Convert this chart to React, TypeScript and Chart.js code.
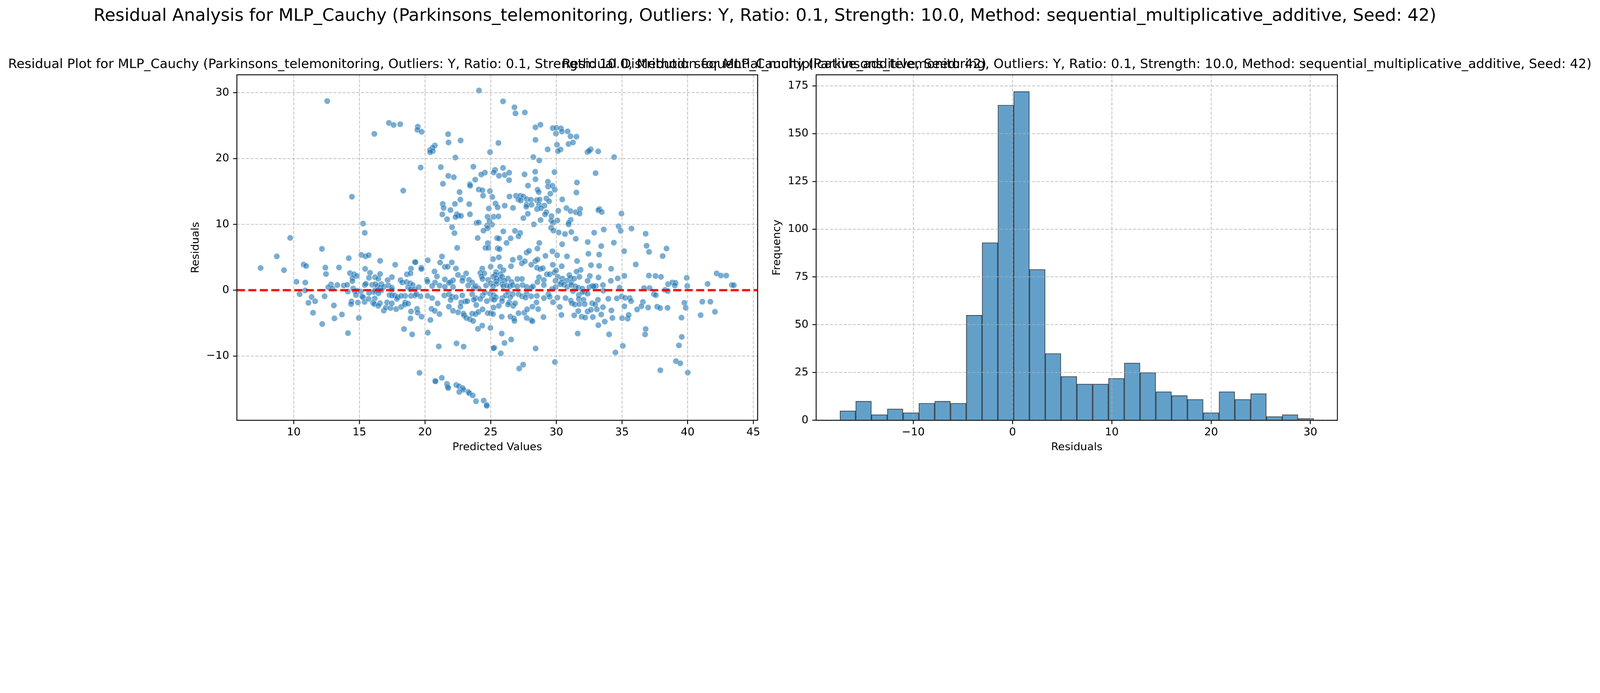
import React, { useEffect, useRef } from "react";
import { Chart, registerables } from "chart.js";

Chart.register(...registerables);

// ---------------- text ----------------
const suptitle =
  "Residual Analysis for MLP_Cauchy (Parkinsons_telemonitoring, Outliers: Y, Ratio: 0.1, Strength: 10.0, Method: sequential_multiplicative_additive, Seed: 42)";
const scatterTitle =
  "Residual Plot for MLP_Cauchy (Parkinsons_telemonitoring, Outliers: Y, Ratio: 0.1, Strength: 10.0, Method: sequential_multiplicative_additive, Seed: 42)";
const histTitle =
  "Residual Distribution for MLP_Cauchy (Parkinsons_telemonitoring, Outliers: Y, Ratio: 0.1, Strength: 10.0, Method: sequential_multiplicative_additive, Seed: 42)";
const scatterXLabel = "Predicted Values";
const scatterYLabel = "Residuals";
const histXLabel = "Residuals";
const histYLabel = "Frequency";

// ---------------- scatter data (predicted, residual) ----------------
const predicted = [
  24.11, 12.55, 17.25, 17.61, 18.11, 19.45, 19.42, 19.74, 16.14, 21.76, 22.71, 21.79, 25.59, 20.75, 20.58, 20.39, 20.59, 20.39, 24.95, 22.31,
  19.67, 21.2, 23.68, 25.33, 25.23, 24.56, 24.28, 25.63, 21.77, 22.19, 23.82, 21.36, 23.41, 23.44, 24.09, 24.37, 24.94, 18.34, 14.43, 22.63,
  24.42, 25.12, 22.69, 21.35, 22.28, 23.37, 25.37, 21.42, 21.94, 24.86, 25.53, 21.32, 22.43, 22.53, 22.32, 22.74, 23.42, 24.76, 25.23, 25.59,
  21.68, 24.91, 23.92, 24.09, 25.1, 24.72, 24.76, 24.45, 22.06, 22.24, 15.28, 15.41, 9.73, 24.01, 25.49, 25.63, 24.79,
  25.94, 26.81, 26.89, 27.6, 28.41, 28.79, 29.73, 30.0, 30.35, 30.42, 29.97, 30.86, 31.08, 31.53, 28.41, 30.93, 31.27, 30.05, 29.34, 30.32,
  30.12, 32.37, 32.62, 32.49, 33.19, 34.4, 28.24, 28.7, 25.94, 27.58, 26.07, 26.41, 28.39, 29.86, 32.99, 26.4, 28.41, 29.36, 27.84, 31.57,
  29.37, 29.7, 29.88, 28.57, 28.66, 29.54, 31.53, 26.43, 26.93, 27.26, 27.49, 27.11, 27.29, 27.75, 28.06, 28.51, 28.73, 29.24, 29.45, 30.45,
  26.07, 26.7, 27.74, 27.71, 28.11, 28.68, 29.09, 28.53, 28.83, 30.15, 30.77, 31.08, 31.48, 31.81, 31.77, 33.29, 33.2, 33.46, 34.96, 29.24,
  29.14, 27.83, 29.63, 27.49, 28.8, 29.61, 29.76, 30.08, 31.09, 30.94, 30.94, 28.29, 34.74, 34.9, 35.72, 36.8, 33.61, 32.88, 29.6, 29.78,
  30.18, 30.66, 31.14, 31.48, 32.39, 34.38, 30.44, 28.7, 25.96, 26.85, 27.25, 27.12, 26.52, 26.21,
  12.15, 8.71, 7.48, 9.26, 10.76, 10.95, 12.41, 13.45, 12.46, 14.19, 15.15, 15.47, 15.71, 16.58, 17.73, 19.22, 18.93, 18.62, 18.89, 15.44,
  15.81, 15.73, 16.2, 16.44, 16.58, 17.15, 17.48, 14.28, 14.6, 14.8, 14.47, 14.47, 10.21, 10.88, 12.84, 12.63, 12.95, 13.32, 13.81, 14.07,
  14.53, 14.82, 14.65, 15.11, 15.41, 15.49, 15.97, 16.22, 16.37, 16.68, 16.59, 16.86, 17.21, 17.47, 17.47, 18.14, 18.27, 18.58, 18.87, 19.06,
  18.71, 18.89, 19.2, 16.19, 16.44, 16.68, 16.1, 15.74, 16.45, 14.12, 10.87, 10.45, 11.36, 11.63, 11.12, 12.35, 14.74, 15.22, 15.27, 14.4,
  14.37, 14.89, 15.4, 15.7, 16.17, 16.04, 16.15, 16.57, 16.44, 16.86, 17.02, 17.11, 17.38, 17.47, 17.29, 17.47, 17.69, 17.86, 17.91, 17.8,
  18.18, 18.49, 18.46, 18.71, 18.49, 18.18, 18.93, 18.93, 18.89, 18.4, 19.02, 14.96, 13.67, 13.1, 13.06, 11.47, 12.17, 14.13, 19.24,
  22.45, 24.6, 24.82, 25.53, 25.68, 27.74, 27.92, 28.56, 29.7, 30.06, 30.81, 32.44, 29.17,
  19.27, 20.21, 21.29, 21.15, 22.04, 21.51, 21.73, 19.72, 19.72, 22.35, 25.18, 25.62, 26.68, 27.21, 27.37, 27.6, 28.09, 28.4, 28.57, 26.55,
  31.58, 29.73, 30.41, 28.53, 28.78, 28.97, 32.64, 25.0, 24.36, 25.72, 25.97, 31.85, 31.54,
  20.72, 20.91, 22.51, 23.13, 24.21, 24.51, 24.31, 24.38, 25.41, 25.36, 25.75, 25.19, 25.44, 25.4, 25.71, 25.88, 26.32, 26.06, 26.59, 27.03,
  27.38, 24.81, 22.88, 22.84, 23.35, 23.59, 22.13, 21.95, 21.51, 20.14, 20.18, 20.76, 28.68, 29.05, 28.56, 29.28, 29.5, 29.85, 29.98, 30.11,
  29.94, 30.46, 30.99, 31.07, 30.78, 31.14, 31.36, 31.76, 32.55, 32.38, 30.39,
  19.52, 20.54, 21.11, 21.51, 21.82, 22.13, 23.28, 23.72, 24.08, 23.85, 24.65, 25.0, 25.44, 25.18, 25.88, 25.97, 26.23, 26.46, 26.68, 27.03,
  27.43, 27.74, 28.09, 28.22, 29.05, 29.68, 29.94, 30.3, 30.57, 30.83, 31.14, 31.45, 31.67, 31.98, 32.51, 32.73, 31.27, 32.16,
  19.35, 19.66, 20.19, 20.54, 21.47, 21.82, 22.04, 22.35, 22.84, 23.59, 23.85, 24.38, 24.56, 24.96, 25.22, 25.4, 25.08, 25.88, 26.15, 26.32,
  26.68, 26.5, 27.12, 27.39, 27.74, 27.65, 28.09, 28.52, 29.05, 29.4, 29.49, 30.08, 30.7, 31.71, 31.98, 32.38,
  20.96, 21.95, 22.75, 23.06, 23.22, 23.72, 23.9, 24.21, 24.71, 25.27, 25.86, 26.41, 26.32, 26.72, 26.86, 25.62, 28.49, 29.75, 30.26, 31.1,
  31.19, 31.41, 31.71, 31.76, 32.07, 32.16, 32.73, 22.7, 21.82,
  19.39, 19.44, 19.74, 20.41, 20.49, 20.74, 21.1, 22.13, 22.52, 22.93, 22.97, 23.14, 23.41, 23.66, 23.59, 23.85, 24.07, 24.38, 24.78, 25.0,
  25.22, 25.18, 25.84, 26.5, 26.77, 26.81, 27.12, 27.56, 27.78, 28.18, 28.62, 27.74, 28.09, 28.18, 29.02, 30.39, 31.36, 31.67, 31.93, 32.2,
  32.38, 32.64, 24.03, 24.36, 24.98, 25.84, 20.21, 31.63,
  33.42, 36.87, 38.39, 33.26, 35.16, 37.06, 38.1, 33.26, 34.17, 36.05, 33.21, 34.15, 34.68, 35.18, 37.05, 37.55, 37.97, 39.93, 42.21, 42.54,
  42.94, 41.52, 43.37, 43.52, 39.97, 33.55, 33.01, 32.84, 34.82, 33.57, 36.68, 37.1, 38.51, 38.83, 39.08, 39.02, 38.28, 38.49, 37.43, 37.58,
  33.17, 33.96, 34.61, 34.97, 35.24, 35.59, 35.69, 36.59, 36.48, 36.15, 36.99, 37.68, 37.91, 38.47, 39.75, 39.85, 41.12, 41.73, 42.08, 40.99,
  39.53, 35.18, 32.96, 33.55, 33.09, 34.19, 33.42, 32.78, 34.27, 33.69, 33.2, 35.01, 35.43, 35.51, 36.8, 36.76, 34.02, 39.55,
  21.05, 22.4, 22.94, 26.05, 26.56, 25.28, 25.21, 25.77, 28.42, 35.06, 34.5, 39.34, 29.89, 27.47, 27.17, 39.11, 39.44, 37.92, 40.01, 19.58,
  21.28, 20.77, 20.8, 21.67, 21.72, 21.77, 22.38, 22.59, 22.86, 22.92, 22.61, 23.3, 23.37, 23.63, 23.88, 24.47, 24.7, 24.7,
];

const residuals = [
  30.35, 28.74, 25.42, 25.11, 25.22, 24.85, 24.37, 24.08, 23.75, 23.71, 22.76, 22.45, 22.37, 21.99, 21.66, 21.31, 21.14, 20.97, 20.98, 20.16,
  18.64, 18.7, 18.77, 18.29, 17.89, 17.86, 17.58, 17.39, 17.37, 17.17, 16.8, 16.17, 16.08, 15.87, 15.3, 15.18, 15.06, 15.13, 14.2, 14.91,
  14.37, 14.18, 13.77, 13.11, 13.11, 13.07, 13.16, 12.5, 12.18, 12.42, 12.59, 11.52, 11.55, 11.33, 11.11, 11.3, 11.54, 11.16, 11.16, 11.21,
  10.78, 10.52, 10.22, 10.29, 9.97, 9.83, 9.4, 9.05, 9.57, 8.67, 10.12, 8.72, 7.94, 7.93, 7.91, 7.85, 7.15,
  28.7, 27.79, 26.87, 27.01, 24.75, 25.15, 24.63, 24.68, 24.59, 24.11, 23.8, 24.13, 23.39, 23.33, 22.85, 22.21, 22.45, 22.11, 21.4, 21.38,
  21.14, 21.0, 21.4, 21.17, 21.09, 20.22, 20.22, 19.72, 18.58, 17.6, 17.51, 17.86, 18.0, 17.94, 17.79, 16.72, 16.86, 16.48, 15.89, 16.36,
  15.75, 15.87, 15.27, 15.27, 14.92, 14.66, 14.84, 14.23, 14.35, 14.35, 14.23, 13.77, 13.63, 13.83, 13.75, 13.68, 13.77, 13.94, 13.51, 13.8,
  12.85, 12.5, 12.99, 12.68, 12.99, 13.02, 12.85, 12.33, 12.47, 12.07, 12.47, 12.02, 11.85, 12.33, 11.64, 12.33, 12.16, 11.88, 11.64, 11.85,
  11.52, 11.61, 11.26, 10.95, 10.66, 10.6, 10.26, 10.6, 10.69, 10.26, 10.0, 10.0, 9.71, 9.02, 9.36, 8.58, 9.22, 8.74, 9.47, 9.05,
  8.77, 8.53, 8.84, 7.81, 7.32, 7.22, 6.98, 7.18, 8.93, 9.02, 8.7, 8.19, 7.88, 7.18,
  6.28, 5.14, 3.37, 3.04, 3.89, 3.68, 3.43, 3.45, 2.45, 4.86, 5.36, 5.14, 5.32, 4.46, 3.87, 4.26, 3.28, 2.41, 2.55, 3.24,
  2.64, 1.89, 1.96, 1.74, 2.46, 1.53, 1.99, 2.59, 2.42, 2.16, 1.83, 1.37, 1.28, 1.16, 0.87, 0.45, 0.25, 0.78, 0.71, 0.82,
  0.25, -0.08, -0.14, -0.21, 0.78, 0.97, 0.82, 0.91, 0.64, 0.91, 0.38, 0.51, 0.71, 0.38, 0.05, 1.53, 1.17, 1.24, 1.04, 0.78,
  0.45, 0.12, 0.12, -0.01, 0.03, -0.01, -0.28, -0.41, -0.47, -0.21, -0.04, -0.61, -1.04, -1.68, -1.93, -0.93, -0.74, -0.93, -1.07, -1.72,
  -2.12, -1.88, -1.78, -1.33, -1.26, -1.92, -2.12, -1.99, -2.38, -3.11, -2.64, -1.86, -2.71, -1.99, -0.74, -0.8, -0.8, -1.33, -1.07, -2.88,
  -2.54, -1.86, -2.18, -2.05, -0.87, -0.87, -0.87, -3.24, -4.29, -5.91, -6.72, -4.22, -3.7, -4.29, -2.32, -3.43, -5.14, -6.53, -0.8,
  6.43, 6.43, 6.43, 6.37, 6.24, 5.71, 5.97, 6.33, 5.91, 5.32, 5.14, 5.54, 5.21,
  4.26, 4.55, 5.12, 4.2, 4.22, 3.54, 3.57, 3.41, 3.21, 3.29, 4.72, 4.99, 4.62, 4.92, 4.07, 4.39, 3.87, 4.42, 4.66, 3.64,
  4.43, 3.87, 3.64, 3.41, 3.21, 3.34, 3.8, 3.57, 3.28, 3.57, 3.04, 3.08, 2.82,
  2.84, 2.09, 2.33, 2.55, 2.62, 2.55, 2.09, 1.7, 2.75, 2.36, 2.42, 2.03, 1.83, 1.37, 1.63, 2.03, 1.76, 1.43, 1.24, 1.7,
  1.7, 1.57, 1.89, 1.43, 1.57, 1.17, 1.5, 1.24, 1.63, 1.57, 1.3, 1.17, 1.96, 1.54, 1.24, 2.42, 2.42, 2.68, 3.01, 2.03,
  1.43, 1.76, 2.29, 1.89, 1.43, 1.17, 1.76, 2.03, 2.16, 1.43, 1.17,
  0.45, 0.64, 0.71, 0.51, 1.11, 0.51, 0.71, 0.32, 0.25, 0.64, 0.71, 1.04, 0.97, 0.58, 0.91, 0.58, 0.71, 0.58, 0.78, 0.58,
  0.78, 0.51, 0.38, 0.58, 0.78, 0.18, 0.45, 0.91, 0.84, 0.51, 0.78, 0.58, 0.38, 0.25, 0.45, 0.64, -0.14, -0.21,
  -0.61, -0.93, -0.87, -1.2, -0.8, -0.64, -1.0, -1.07, -0.8, -0.61, -1.2, -0.8, -0.34, -0.54, -0.74, -1.07, -1.33, -1.2, -0.8, -0.28,
  -0.61, -1.07, -0.61, -0.93, -0.54, -1.13, -0.93, -0.87, -1.2, -0.61, -1.0, -1.13, -1.2, -0.74, -0.28, -0.54,
  -2.01, -1.49, -1.86, -1.72, -1.66, -1.46, -2.25, -1.33, -1.66, -1.46, -1.66, -1.86, -2.18, -2.38, -1.99, -2.38, -1.86, -1.83, -2.55, -1.59,
  -1.99, -2.18, -1.33, -2.12, -1.46, -2.12, -1.99, -2.51, -2.51,
  -2.84, -3.43, -4.03, -4.53, -2.84, -3.14, -3.63, -3.14, -3.37, -3.57, -3.83, -4.22, -4.42, -4.68, -3.57, -3.63, -3.3, -2.91, -3.5, -3.5,
  -2.64, -3.63, -4.03, -4.03, -4.29, -4.68, -3.5, -3.43, -2.91, -2.51, -2.88, -4.22, -4.55, -4.72, -4.09, -3.76, -3.83, -3.17, -4.03, -4.16,
  -3.24, -2.97, -5.87, -5.38, -5.74, -6.59, -6.46, -6.59,
  6.7, 6.75, 6.33, 5.41, 5.93, 5.82, 5.18, 3.7, 3.25, 3.91, 1.93, 1.43, 1.79, 2.18, 2.22, 2.16, 2.03, 1.87, 2.55, 2.22,
  2.22, 0.95, 0.8, 0.75, 0.64, 0.78, 0.64, 0.58, 0.38, -0.08, 0.32, 0.32, 0.91, 1.17, 1.11, 0.71, 0.05, -0.14, -0.61, -0.76,
  -1.46, -1.3, -1.26, -0.96, -1.17, -1.2, -1.66, -1.79, -2.45, -2.93, -2.64, -2.51, -2.72, -2.68, -1.92, -2.68, -1.75, -1.75, -3.28, -3.79,
  -4.18, -2.45, -2.18, -2.58, -2.91, -3.08, -3.7, -4.09, -4.22, -4.78, -5.32, -4.26, -4.33, -3.76, -5.91, -6.72, -6.72, -7.1,
  -8.55, -8.09, -8.58, -8.03, -7.5, -8.75, -8.82, -9.61, -8.86, -8.46, -9.47, -8.39, -10.92, -11.32, -11.91, -10.79, -11.12, -12.17, -12.53, -12.57,
  -13.32, -13.78, -13.86, -14.25, -14.67, -14.87, -14.41, -14.61, -14.87, -15.13, -15.46, -15.46, -15.66, -15.99, -16.88, -16.78, -17.43, -17.57,
];

const zeroLineY = [0, 0];

// ---------------- histogram data ----------------
const histCounts = [5, 10, 3, 6, 4, 9, 10, 9, 55, 93, 165, 172, 79, 35, 23, 19, 19, 22, 30, 25, 15, 13, 11, 4, 15, 11, 14, 2, 3, 1];
const histBinStart = -17.39;
const histBinWidth = 1.591;

// ---------------- axes ----------------
const scatterXRange = [5.67, 45.33];
const scatterYRange = [-19.78, 32.73];
const scatterXTicks = [10, 15, 20, 25, 30, 35, 40, 45];
const scatterYTicks = [-10, 0, 10, 20, 30];
const histXRange = [-19.78, 32.72];
const histYRange = [0, 180.76];
const histXTicks = [-10, 0, 10, 20, 30];
const histYTicks = [0, 25, 50, 75, 100, 125, 150, 175];

// ---------------- style ----------------
const FIG_W = 6154;
const FIG_H = 1775;
const PT = 300 / 72;
const FONT = "'DejaVu Sans', 'Liberation Sans', sans-serif";
const TICK_PX = 10 * PT;
const TITLE_PX = 12 * PT;
const SUPTITLE_PX = 16 * PT;
const GRID_COLOR = "rgba(176,176,176,0.7)";
const LINE_W = 0.8 * PT;

const fmt = (v: number) => (v < 0 ? "\u2212" + Math.abs(v) : String(v));

function makeAxis(
  position: "left" | "bottom",
  range: number[],
  ticks: number[],
  title: string,
  size: number,
  titlePad: number,
  labelPad: number,
  hideZeroGrid = false
) {
  return {
    type: "linear",
    position,
    min: range[0],
    max: range[1],
    offset: false,
    afterBuildTicks: (s: any) => {
      s.ticks = ticks.map((v) => ({ value: v }));
    },
    afterFit: (s: any) => {
      if (position === "left") s.width = size;
      else s.height = size;
    },
    grid: {
      display: true,
      offset: false,
      drawOnChartArea: true,
      drawTicks: true,
      color: (c: any) => (hideZeroGrid && c.tick && c.tick.value === 0 ? "rgba(0,0,0,0)" : GRID_COLOR),
      lineWidth: LINE_W,
      tickLength: 3.5 * PT,
      tickWidth: LINE_W,
      tickColor: "#000",
      z: 1,
    },
    // spines are drawn by the frame plugin; border.dash styles the dashed grid lines
    border: { display: false, color: "#000", width: LINE_W, dash: [3.7 * 0.8 * PT, 1.6 * 0.8 * PT] },
    ticks: {
      color: "#000",
      font: { family: FONT, size: TICK_PX },
      padding: labelPad,
      autoSkip: false,
      maxRotation: 0,
      minRotation: 0,
      callback: (v: any) => fmt(Number(v)),
    },
    title: {
      display: true,
      text: title,
      color: "#000",
      font: { family: FONT, size: TICK_PX },
      padding: { top: titlePad, bottom: titlePad },
    },
  };
}

function decorPlugin(id: string, title: string, withSuptitle: boolean) {
  return {
    id,
    afterDraw(chart: any) {
      const { ctx, chartArea: a } = chart;
      ctx.save();
      ctx.strokeStyle = "#000";
      ctx.lineWidth = LINE_W;
      ctx.setLineDash([]);
      ctx.strokeRect(a.left, a.top, a.right - a.left, a.bottom - a.top);
      ctx.fillStyle = "#000";
      ctx.textAlign = "center";
      ctx.textBaseline = "alphabetic";
      ctx.font = `${TITLE_PX}px ${FONT}`;
      ctx.fillText(title, (a.left + a.right) / 2, a.top - 26);
      if (withSuptitle) {
        ctx.font = `${SUPTITLE_PX}px ${FONT}`;
        ctx.fillText(suptitle, 2942, 80);
      }
      ctx.restore();
    },
  };
}

// CSS size of the figure so that its 6154x1775 backing store maps onto the window's device pixels
function cssScale() {
  if (typeof window === "undefined") return 1;
  const w = window.innerWidth || FIG_W;
  return w / FIG_W;
}

function ScatterPanel({ scale }: { scale: number }) {
  const ref = useRef<HTMLCanvasElement | null>(null);
  useEffect(() => {
    if (!ref.current) return;
    const points = predicted.map((x, i) => ({ x, y: residuals[i] }));
    const zeroLine = scatterXRange.map((x, i) => ({ x, y: zeroLineY[i] }));
    const chart = new Chart(ref.current, {
      type: "scatter",
      data: {
        datasets: [
          {
            type: "line",
            data: zeroLine,
            borderColor: "#ff0000",
            borderWidth: 2 * PT,
            borderDash: [7.4 * PT, 3.2 * PT],
            pointRadius: 0,
            fill: false,
            showLine: true,
          } as any,
          {
            type: "scatter",
            data: points,
            backgroundColor: "rgba(31,119,180,0.6)",
            borderColor: "rgba(255,255,255,0.6)",
            borderWidth: 1.5,
            pointRadius: 11.6,
            pointHoverRadius: 11.6,
          } as any,
        ],
      },
      options: {
        responsive: false,
        animation: false,
        devicePixelRatio: 1,
        events: [],
        layout: { padding: { left: 700, right: FIG_W - 2914, top: 288, bottom: 0 } },
        plugins: { legend: { display: false }, tooltip: { enabled: false }, title: { display: false } },
        scales: {
          x: makeAxis("bottom", scatterXRange, scatterXTicks, scatterXLabel, FIG_H - 1618, 28, 8) as any,
          y: makeAxis("left", scatterYRange, scatterYTicks, scatterYLabel, 211, 28, 15, true) as any,
        },
      },
      plugins: [decorPlugin("scatterDecor", scatterTitle, true)],
    });
    return () => chart.destroy();
  }, []);
  return (
    <canvas
      ref={ref}
      width={FIG_W}
      height={FIG_H}
      style={{ position: "absolute", left: 0, top: 0, width: FIG_W * scale, height: FIG_H * scale }}
    />
  );
}

function HistPanel({ scale }: { scale: number }) {
  const ref = useRef<HTMLCanvasElement | null>(null);
  useEffect(() => {
    if (!ref.current) return;
    const bars = histCounts.map((c, i) => ({ x: histBinStart + (i + 0.5) * histBinWidth, y: c }));
    const chart = new Chart(ref.current, {
      type: "bar",
      data: {
        datasets: [
          {
            data: bars,
            backgroundColor: "rgba(31,119,180,0.7)",
            borderColor: "rgba(0,0,0,0.72)",
            borderWidth: 2.5,
            borderSkipped: "start",
            barPercentage: 1,
            categoryPercentage: 1,
          } as any,
        ],
      },
      options: {
        responsive: false,
        animation: false,
        devicePixelRatio: 1,
        events: [],
        parsing: false as any,
        layout: { padding: { left: 2940, right: FIG_W - 5144, top: 288, bottom: 0 } },
        plugins: { legend: { display: false }, tooltip: { enabled: false }, title: { display: false } },
        scales: {
          x: makeAxis("bottom", histXRange, histXTicks, histXLabel, FIG_H - 1618, 28, 8) as any,
          y: makeAxis("left", histYRange, histYTicks, histYLabel, 199, 24, 15) as any,
        },
      },
      plugins: [decorPlugin("histDecor", histTitle, false)],
    });
    return () => chart.destroy();
  }, []);
  return (
    <canvas
      ref={ref}
      width={FIG_W}
      height={FIG_H}
      style={{ position: "absolute", left: 0, top: 0, width: FIG_W * scale, height: FIG_H * scale }}
    />
  );
}

export default function App() {
  const scale = cssScale();
  return (
    <div
      style={{
        position: "absolute",
        left: 0,
        top: 0,
        width: FIG_W * scale,
        height: FIG_H * scale,
        background: "#ffffff",
        overflow: "hidden",
      }}
    >
      <ScatterPanel scale={scale} />
      <HistPanel scale={scale} />
    </div>
  );
}
